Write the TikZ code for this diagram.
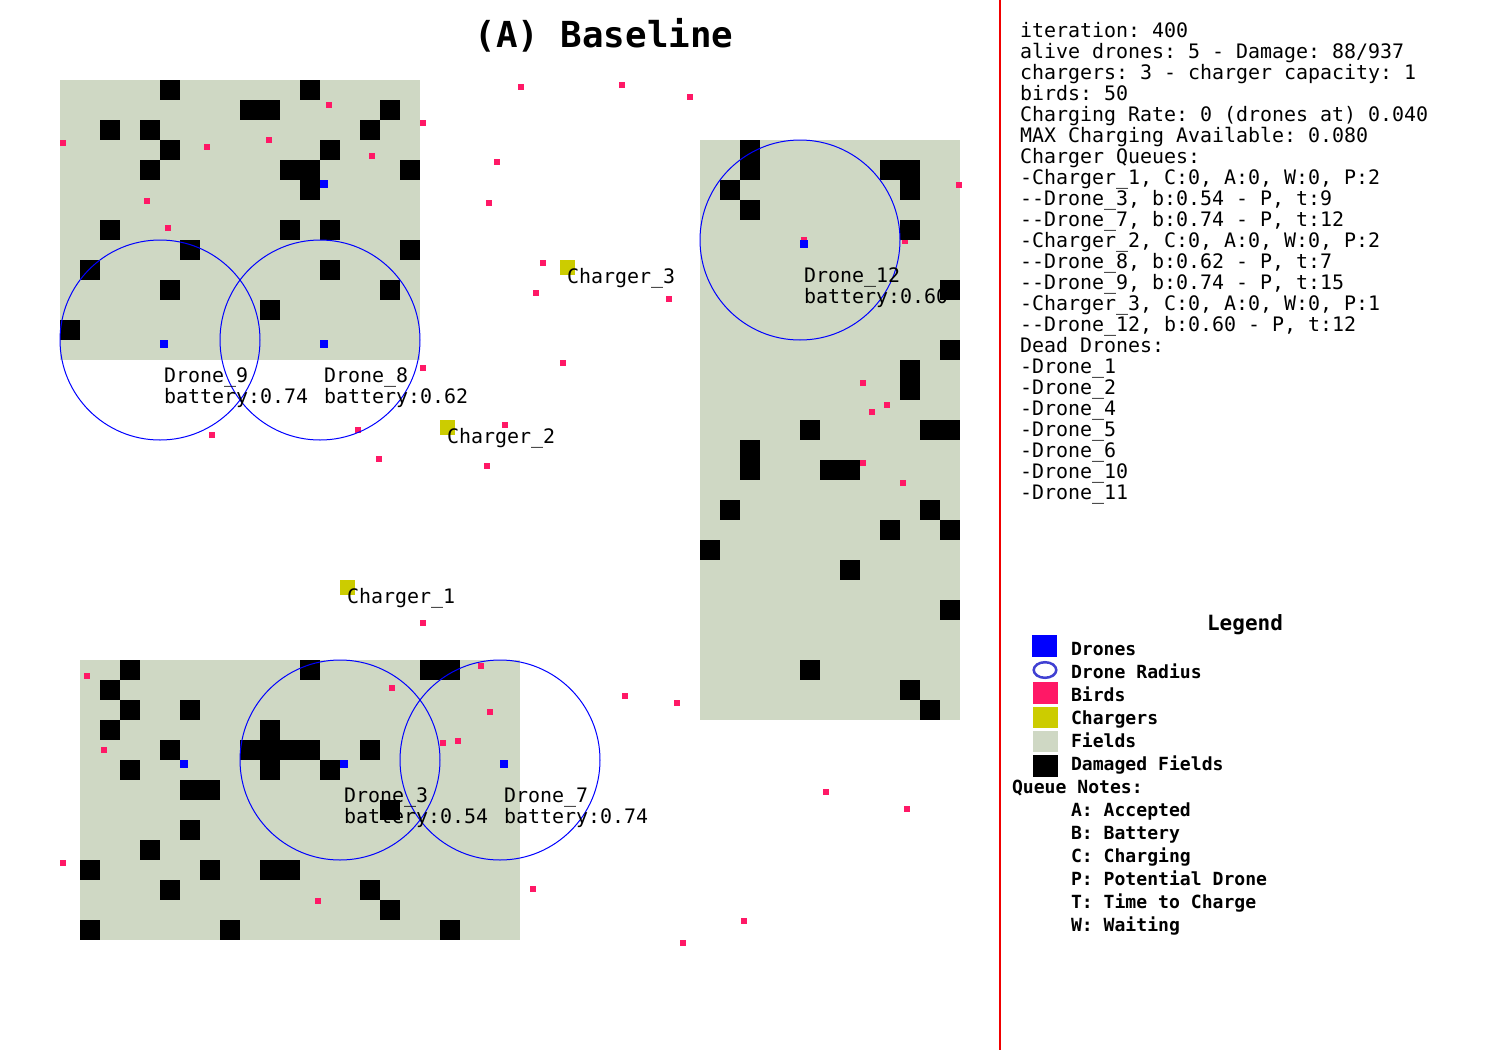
\documentclass[tikz,border=0pt]{standalone}
\usepackage{fontspec}
\setmonofont{DejaVu Sans Mono}
\definecolor{fieldc}{RGB}{207,216,196}
\definecolor{birdc}{RGB}{255,24,102}
\definecolor{chargerc}{RGB}{204,204,0}
\definecolor{dronec}{RGB}{0,0,255}
\definecolor{radiusc}{RGB}{64,64,210}
\definecolor{sepc}{RGB}{240,0,0}
\begin{document}
\begin{tikzpicture}[x=0.5pt,y=-0.5pt,
  every node/.style={inner sep=0pt,outer sep=0pt},
  lbl/.style={anchor=base west,font=\ttfamily\fontsize{9.97pt}{10.5pt}\selectfont},
  lgd/.style={anchor=base west,font=\ttfamily\bfseries\fontsize{9.05pt}{10pt}\selectfont},
  ttl/.style={anchor=base,font=\ttfamily\bfseries\fontsize{17.9pt}{20pt}\selectfont},
  lgdttl/.style={anchor=base,font=\ttfamily\bfseries\fontsize{10.5pt}{12pt}\selectfont},
  radius circle/.style={draw=dronec,line width=0.5pt}]
\useasboundingbox (0,0) rectangle (1500,1050);

% fields
\fill[fieldc] (60,80) rectangle (420,360);
\fill[fieldc] (700,140) rectangle (960,720);
\fill[fieldc] (80,660) rectangle (520,940);

% birds
\foreach \x/\y in {326/102,420/120,60/140,204/144,266/137,369/153,144/198,165/225,420/365,
  518/84,619/82,687/94,494/159,486/200,540/260,533/290,666/296,560/360,502/422,484/463,
  209/432,355/427,376/456,420/620,956/182,902/238,801/237,860/380,884/402,869/409,
  860/460,900/480,84/673,101/747,389/685,478/663,487/709,440/740,455/738,315/898,
  622/693,674/700,823/789,904/806,530/886,741/918,680/940,60/860}
  \fill[birdc] (\x,\y) rectangle ++(6,6);

% damaged cells, field 1
\foreach \c/\r in {5/0,12/0,9/1,10/1,16/1,2/2,4/2,15/2,5/3,13/3,4/4,11/4,12/4,17/4,12/5,
  2/7,11/7,13/7,6/8,17/8,1/9,13/9,5/10,16/10,10/11,0/12}
  \fill[black] ({60+20*\c},{80+20*\r}) rectangle ++(20,20);
% damaged cells, field 2
\foreach \c/\r in {2/0,2/1,1/2,2/3,9/1,10/1,10/2,10/4,12/7,12/10,10/11,10/12,5/14,11/14,
  12/14,2/15,2/16,6/16,7/16,1/18,11/18,9/19,12/19,0/20,7/21,12/23,5/26,10/27,11/28}
  \fill[black] ({700+20*\c},{140+20*\r}) rectangle ++(20,20);
% damaged cells, field 3
\foreach \c/\r in {2/0,11/0,17/0,18/0,1/1,2/2,5/2,1/3,9/3,4/4,8/4,9/4,10/4,11/4,14/4,
  2/5,9/5,12/5,5/6,6/6,5/8,3/9,0/10,6/10,9/10,10/10,4/11,14/11,15/12,0/13,7/13,18/13}
  \fill[black] ({80+20*\c},{660+20*\r}) rectangle ++(20,20);

% chargers
\fill[chargerc] (560,260) rectangle ++(15,15);
\fill[chargerc] (440,420) rectangle ++(15,15);
\fill[chargerc] (340,580) rectangle ++(15,15);

% drones
\foreach \x/\y in {160/340,320/340,320/180,800/240,340/760,500/760,180/760}
  \fill[dronec] (\x,\y) rectangle ++(8,8);

% drone radii
\foreach \x/\y in {160/340,320/340,800/240,340/760,500/760}
  \draw[radius circle] (\x,\y) circle [radius=50pt];

% drone labels
\node[lbl] (d9a) at (164,382) {Drone\_9};
\node[lbl] (d9b) at (164,403) {battery:0.74};
\node[lbl] (d8a) at (324,382) {Drone\_8};
\node[lbl] (d8b) at (324,403) {battery:0.62};
\node[lbl] (d12a) at (804,282) {Drone\_12};
\node[lbl] (d12b) at (804,303) {battery:0.60};
\node[lbl] (d3a) at (344,802) {Drone\_3};
\node[lbl] (d3b) at (344,823) {battery:0.54};
\node[lbl] (d7a) at (504,802) {Drone\_7};
\node[lbl] (d7b) at (504,823) {battery:0.74};

% charger labels
\node[lbl] (c3) at (567,283) {Charger\_3};
\node[lbl] (c2) at (447,443) {Charger\_2};
\node[lbl] (c1) at (347,603) {Charger\_1};

% damaged cell drawn over a label
\fill[black] (380,800) rectangle ++(20,20);

% title
\node[ttl] (title) at (604,47) {(A) Baseline};

% separator
\draw[sepc,line width=0.8pt] (1000,0) -- (1000,1050);

% info panel
\node[lbl] (i0) at (1020,37) {iteration: 400};
\node[lbl] (i1) at (1020,58) {alive drones: 5 - Damage: 88/937};
\node[lbl] (i2) at (1020,79) {chargers: 3 - charger capacity: 1};
\node[lbl] (i3) at (1020,100) {birds: 50};
\node[lbl] (i4) at (1020,121) {Charging Rate: 0 (drones at) 0.040};
\node[lbl] (i5) at (1020,142) {MAX Charging Available: 0.080};
\node[lbl] (i6) at (1020,163) {Charger Queues:};
\node[lbl] (i7) at (1020,184) {-Charger\_1, C:0, A:0, W:0, P:2};
\node[lbl] (i8) at (1020,205) {-{}-Drone\_3, b:0.54 - P, t:9};
\node[lbl] (i9) at (1020,226) {-{}-Drone\_7, b:0.74 - P, t:12};
\node[lbl] (i10) at (1020,247) {-Charger\_2, C:0, A:0, W:0, P:2};
\node[lbl] (i11) at (1020,268) {-{}-Drone\_8, b:0.62 - P, t:7};
\node[lbl] (i12) at (1020,289) {-{}-Drone\_9, b:0.74 - P, t:15};
\node[lbl] (i13) at (1020,310) {-Charger\_3, C:0, A:0, W:0, P:1};
\node[lbl] (i14) at (1020,331) {-{}-Drone\_12, b:0.60 - P, t:12};
\node[lbl] (i15) at (1020,352) {Dead Drones:};
\node[lbl] (i16) at (1020,373) {-Drone\_1};
\node[lbl] (i17) at (1020,394) {-Drone\_2};
\node[lbl] (i18) at (1020,415) {-Drone\_4};
\node[lbl] (i19) at (1020,436) {-Drone\_5};
\node[lbl] (i20) at (1020,457) {-Drone\_6};
\node[lbl] (i21) at (1020,478) {-Drone\_10};
\node[lbl] (i22) at (1020,499) {-Drone\_11};

% legend
\node[lgdttl] (lg) at (1245,630) {Legend};
\fill[dronec] (1032,635) rectangle (1057,657);
\draw[radiusc,line width=1.25pt] (1045,670) ellipse [x radius=5.65pt,y radius=3.9pt];
\fill[birdc] (1033,682) rectangle (1058,704);
\fill[chargerc] (1033,707) rectangle (1058,728);
\fill[fieldc] (1033,731) rectangle (1058,752);
\fill[black] (1033,755) rectangle (1058,777);
\node[lgd] (l1) at (1071,655) {Drones};
\node[lgd] (l2) at (1071,678) {Drone Radius};
\node[lgd] (l3) at (1071,701) {Birds};
\node[lgd] (l4) at (1071,724) {Chargers};
\node[lgd] (l5) at (1071,747) {Fields};
\node[lgd] (l6) at (1071,770) {Damaged Fields};
\node[lgd] (qn) at (1012,793) {Queue Notes:};
\node[lgd] (q1) at (1071,816) {A: Accepted};
\node[lgd] (q2) at (1071,839) {B: Battery};
\node[lgd] (q3) at (1071,862) {C: Charging};
\node[lgd] (q4) at (1071,885) {P: Potential Drone};
\node[lgd] (q5) at (1071,908) {T: Time to Charge};
\node[lgd] (q6) at (1071,931) {W: Waiting};
\end{tikzpicture}
\end{document}
